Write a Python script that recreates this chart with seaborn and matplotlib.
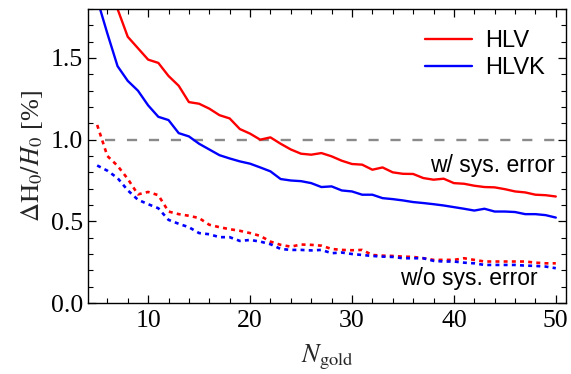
import numpy as np
import pandas as pd
import matplotlib
matplotlib.use("Agg")
import matplotlib.pyplot as plt
import seaborn as sns
from matplotlib.ticker import MultipleLocator

N = list(range(5, 51))

hlv_sys = [2.20, 1.98, 1.80, 1.63, 1.56, 1.49, 1.47, 1.39, 1.33, 1.23,
           1.22, 1.19, 1.15, 1.13, 1.065, 1.037, 1.00, 1.014, 0.975, 0.94,
           0.914, 0.908, 0.918, 0.898, 0.871, 0.851, 0.847, 0.816, 0.83, 0.80,
           0.791, 0.79, 0.765, 0.755, 0.761, 0.734, 0.73, 0.718, 0.71, 0.708,
           0.697, 0.683, 0.677, 0.663, 0.66, 0.652]

hlvk_sys = [1.86, 1.65, 1.45, 1.36, 1.30, 1.21, 1.14, 1.12, 1.04, 1.02,
            0.975, 0.94, 0.905, 0.885, 0.867, 0.853, 0.83, 0.806, 0.759, 0.75,
            0.746, 0.734, 0.71, 0.714, 0.689, 0.683, 0.663, 0.663, 0.642, 0.636,
            0.628, 0.618, 0.612, 0.605, 0.597, 0.587, 0.577, 0.566, 0.577, 0.56,
            0.56, 0.557, 0.544, 0.544, 0.538, 0.523]

hlv_nosys = [1.09, 0.90, 0.84, 0.76, 0.665, 0.68, 0.66, 0.56, 0.544, 0.534,
             0.52, 0.479, 0.464, 0.452, 0.442, 0.428, 0.411, 0.376, 0.356, 0.345,
             0.358, 0.356, 0.351, 0.331, 0.325, 0.323, 0.325, 0.294, 0.29, 0.288,
             0.284, 0.282, 0.274, 0.264, 0.264, 0.264, 0.274, 0.264, 0.254, 0.254,
             0.254, 0.254, 0.254, 0.247, 0.243, 0.243]

hlvk_nosys = [0.842, 0.81, 0.765, 0.69, 0.632, 0.605, 0.58, 0.509, 0.485, 0.464,
              0.428, 0.421, 0.403, 0.403, 0.38, 0.386, 0.376, 0.36, 0.331, 0.325,
              0.325, 0.322, 0.325, 0.305, 0.309, 0.30, 0.294, 0.288, 0.284, 0.282,
              0.274, 0.274, 0.274, 0.258, 0.254, 0.254, 0.247, 0.243, 0.233, 0.233,
              0.233, 0.233, 0.229, 0.227, 0.223, 0.213]

ref_level = 1.0
labels = ["HLV", "HLVK"]

sns.set_theme(style="ticks")
plt.rcParams['font.family'] = ['Liberation Serif', 'DejaVu Serif']
plt.rcParams['mathtext.fontset'] = 'stix'

fig = plt.figure(figsize=(5.71, 3.74), dpi=100)
ax = fig.add_axes([88/571, 1-303/374, (566-88)/571, (303-9)/374])

red = "#ff0000"
blue = "#0000ff"

ax.hlines(ref_level, 5.8, 51, colors="#8a8a8a", linestyles=(0, (4.3, 5.0)), lw=1.7, zorder=1)

sns.lineplot(x=N, y=hlv_sys, ax=ax, color=red, lw=1.7, label=labels[0])
sns.lineplot(x=N, y=hlvk_sys, ax=ax, color=blue, lw=1.7, label=labels[1])
dot = (0, (1.5, 1.6))
sns.lineplot(x=N, y=hlv_nosys, ax=ax, color=red, lw=1.9, linestyle=dot)
sns.lineplot(x=N, y=hlvk_nosys, ax=ax, color=blue, lw=1.9, linestyle=dot)

ax.set_xlim(4.1, 51)
ax.set_ylim(0, 1.8)
ax.xaxis.set_major_locator(MultipleLocator(10))
ax.xaxis.set_minor_locator(MultipleLocator(2))
ax.yaxis.set_major_locator(MultipleLocator(0.5))
ax.yaxis.set_minor_locator(MultipleLocator(0.1))
ax.yaxis.set_major_formatter(matplotlib.ticker.FormatStrFormatter('%.1f'))
ax.tick_params(which='both', direction='in', top=True, right=True, colors='black')
ax.tick_params(which='major', length=6, width=0.9, labelsize=18.5, pad=5)
ax.tick_params(which='minor', length=3.5, width=0.8)
ax.tick_params(axis='y', which='major', pad=3.5)
for s in ax.spines.values():
    s.set_linewidth(1.0)
    s.set_color('black')

ax.set_xlabel(r'$N_{\mathrm{gold}}$', fontsize=19, labelpad=8)
ax.set_ylabel(r'$\Delta\mathrm{H}_0/H_0$ [%]', fontsize=19, labelpad=4)

sans = ['Liberation Sans', 'DejaVu Sans']
leg = ax.legend(loc='upper right', frameon=False, prop={'family': sans, 'size': 17},
                handlelength=2.0, handletextpad=0.55, borderaxespad=0.5,
                labelspacing=0.22, bbox_to_anchor=(1.0, 1.0))
for t in leg.get_texts():
    t.set_color('black')

ax.text(49.9, 0.843, 'w/ sys. error', ha='right', va='center', fontsize=16.5,
        family=sans, color='black')
ax.text(48.2, 0.150, 'w/o sys. error', ha='right', va='center', fontsize=16.5,
        family=sans, color='black')

fig.savefig('out.png', dpi=100)
